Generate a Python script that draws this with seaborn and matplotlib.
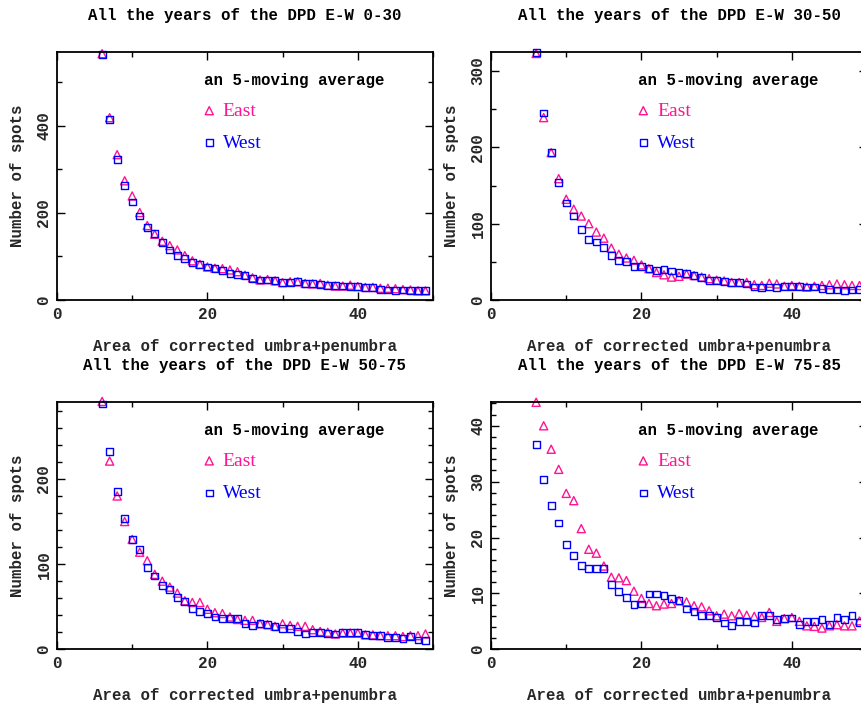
import matplotlib
matplotlib.use('Agg')
import pandas as pd
import matplotlib.pyplot as plt
import matplotlib.ticker as mtick
import seaborn as sns

# spot area bins (x axis), same for all four latitude bands
area = list(range(6, 50))

# 5-point moving averages
east_0_30 = [566, 419, 334, 274, 239, 201, 171, 151, 135, 125, 115, 102, 90, 82, 76,
             73, 72, 69, 65, 57, 51, 46, 47, 44, 40, 42, 42, 38, 37, 38, 34, 32, 32, 34,
             31, 29, 29, 27, 27, 26, 24, 23, 21, 21]
west_0_30 = [565, 414, 323, 263, 225, 193, 167, 153, 132, 115, 102, 96, 87, 82, 76,
             72, 67, 61, 58, 57, 50, 46, 46, 44, 41, 41, 42, 38, 38, 36, 34, 33, 32, 31,
             31, 29, 28, 24, 23, 21, 23, 21, 21, 21]

east_30_50 = [323, 239, 193, 159, 132, 119, 110, 100, 89, 81, 68, 60, 55, 52, 46,
              41, 36, 33, 30, 31, 34, 32, 30, 28, 26, 25, 23, 23, 23, 20, 19, 22, 21, 18,
              19, 18, 17, 18, 19, 20, 21, 20, 19, 19]
west_30_50 = [324, 245, 193, 154, 127, 110, 92, 79, 76, 69, 58, 52, 50, 44, 44,
              41, 39, 40, 38, 36, 35, 32, 29, 26, 25, 24, 23, 23, 21, 17, 16, 17, 16, 18,
              18, 18, 17, 17, 15, 14, 13, 12, 13, 14]

east_50_75 = [291, 221, 180, 150, 129, 114, 104, 88, 80, 73, 66, 57, 55, 55, 47,
              43, 42, 38, 35, 34, 34, 30, 29, 27, 30, 28, 27, 27, 23, 21, 20, 18, 19, 19,
              19, 17, 17, 16, 16, 16, 15, 16, 16, 18]
west_50_75 = [288, 232, 185, 154, 129, 117, 96, 86, 75, 70, 61, 56, 48, 44, 42,
              38, 36, 36, 36, 30, 28, 30, 29, 27, 24, 24, 21, 18, 20, 20, 19, 18, 20, 20,
              20, 17, 16, 16, 14, 14, 13, 15, 11, 10]

east_75_85 = [44.2, 40.0, 35.8, 32.2, 27.9, 26.6, 21.6, 17.9, 17.2, 14.9, 12.9, 12.8,
              12.3, 10.4, 9.1, 8.2, 7.8, 8.1, 8.2, 8.7, 8.5, 7.8, 7.6, 6.9, 6.0, 6.3, 6.0,
              6.4, 6.1, 5.9, 5.7, 6.6, 5.0, 5.5, 5.7, 5.0, 4.2, 4.1, 3.8, 4.2, 4.4, 4.2,
              4.2, 5.1]
west_75_85 = [36.6, 30.4, 25.8, 22.6, 18.8, 16.8, 15.0, 14.4, 14.4, 14.4, 11.6, 10.4,
              9.3, 8.0, 8.1, 9.9, 9.9, 9.6, 9.1, 8.7, 7.2, 6.7, 6.0, 6.0, 5.7, 4.7, 4.2,
              5.0, 5.0, 4.7, 6.0, 6.1, 5.3, 5.5, 5.6, 4.5, 5.0, 5.0, 5.3, 4.4, 5.7, 5.3,
              6.0, 4.8]

bands = ['0-30', '30-50', '50-75', '75-85']
east_series = [east_0_30, east_30_50, east_50_75, east_75_85]
west_series = [west_0_30, west_30_50, west_50_75, west_75_85]
y_tops = [570, 325, 290, 44.2]
y_major = [200, 100, 100, 10]
y_minor = [100, 50, 20, 2]

pink = '#ff1493'
blue = '#0000ff'

sns.set_theme(style='ticks')
plt.rcParams['font.family'] = ['Liberation Mono', 'DejaVu Sans Mono']
plt.rcParams['font.weight'] = 'bold'
plt.rcParams['axes.edgecolor'] = 'black'
plt.rcParams['axes.linewidth'] = 1.3
plt.rcParams['text.color'] = 'black'

fig = plt.figure(figsize=(8.61, 7.09), dpi=100)

# axes boxes in figure fractions; right column runs past the image edge like the original
positions = [
    [0.0662, 0.5769, 0.4367, 0.3498],
    [0.5703, 0.5769, 0.4367, 0.3498],
    [0.0662, 0.0842, 0.4367, 0.3484],
    [0.5703, 0.0842, 0.4367, 0.3484],
]

for i, band in enumerate(bands):
    ax = fig.add_axes(positions[i])
    df = pd.DataFrame({'area': area, 'East': east_series[i], 'West': west_series[i]})

    sns.scatterplot(data=df, x='area', y='East', marker='^', s=34, facecolor='none',
                    edgecolor=pink, linewidth=1.0, clip_on=False, ax=ax, label='East')
    sns.scatterplot(data=df, x='area', y='West', marker='s', s=24, facecolor='none',
                    edgecolor=blue, linewidth=1.0, clip_on=False, ax=ax, label='West')

    ax.set_xlim(0, 50)
    ax.set_ylim(0, y_tops[i])
    ax.xaxis.set_major_locator(mtick.MultipleLocator(20))
    ax.xaxis.set_minor_locator(mtick.MultipleLocator(10))
    ax.yaxis.set_major_locator(mtick.MultipleLocator(y_major[i]))
    ax.yaxis.set_minor_locator(mtick.MultipleLocator(y_minor[i]))
    ax.tick_params(which='both', direction='in', top=True, right=True, color='black',
                   labelsize=11.5, width=1.0)
    ax.tick_params(which='major', length=6)
    ax.tick_params(which='minor', length=3.5)
    ax.tick_params(axis='x', pad=5)
    ax.tick_params(axis='y', labelrotation=90, pad=4)
    for lab in ax.get_yticklabels():
        lab.set_verticalalignment('center')

    ax.set_title(f'All the years of the DPD E-W {band}', fontsize=11.3,
                 fontweight='bold', pad=23)
    ax.set_xlabel('Area of corrected umbra+penumbra', fontsize=11.3,
                  fontweight='bold', labelpad=12)
    ax.set_ylabel('Number of spots', fontsize=11.3, fontweight='bold', labelpad=8)

    leg = ax.legend(loc='upper left', bbox_to_anchor=(0.392, 0.917), frameon=False,
                    title='an 5-moving average', alignment='left',
                    prop={'family': 'Liberation Serif', 'size': 14, 'weight': 'normal'},
                    title_fontproperties={'family': 'Liberation Mono', 'size': 11.3,
                                          'weight': 'bold'},
                    handlelength=0.5, handletextpad=0.45, labelspacing=0.75,
                    borderpad=0, borderaxespad=0)
    for txt, col in zip(leg.get_texts(), [pink, blue]):
        txt.set_color(col)

fig.savefig('out.png', dpi=100)
